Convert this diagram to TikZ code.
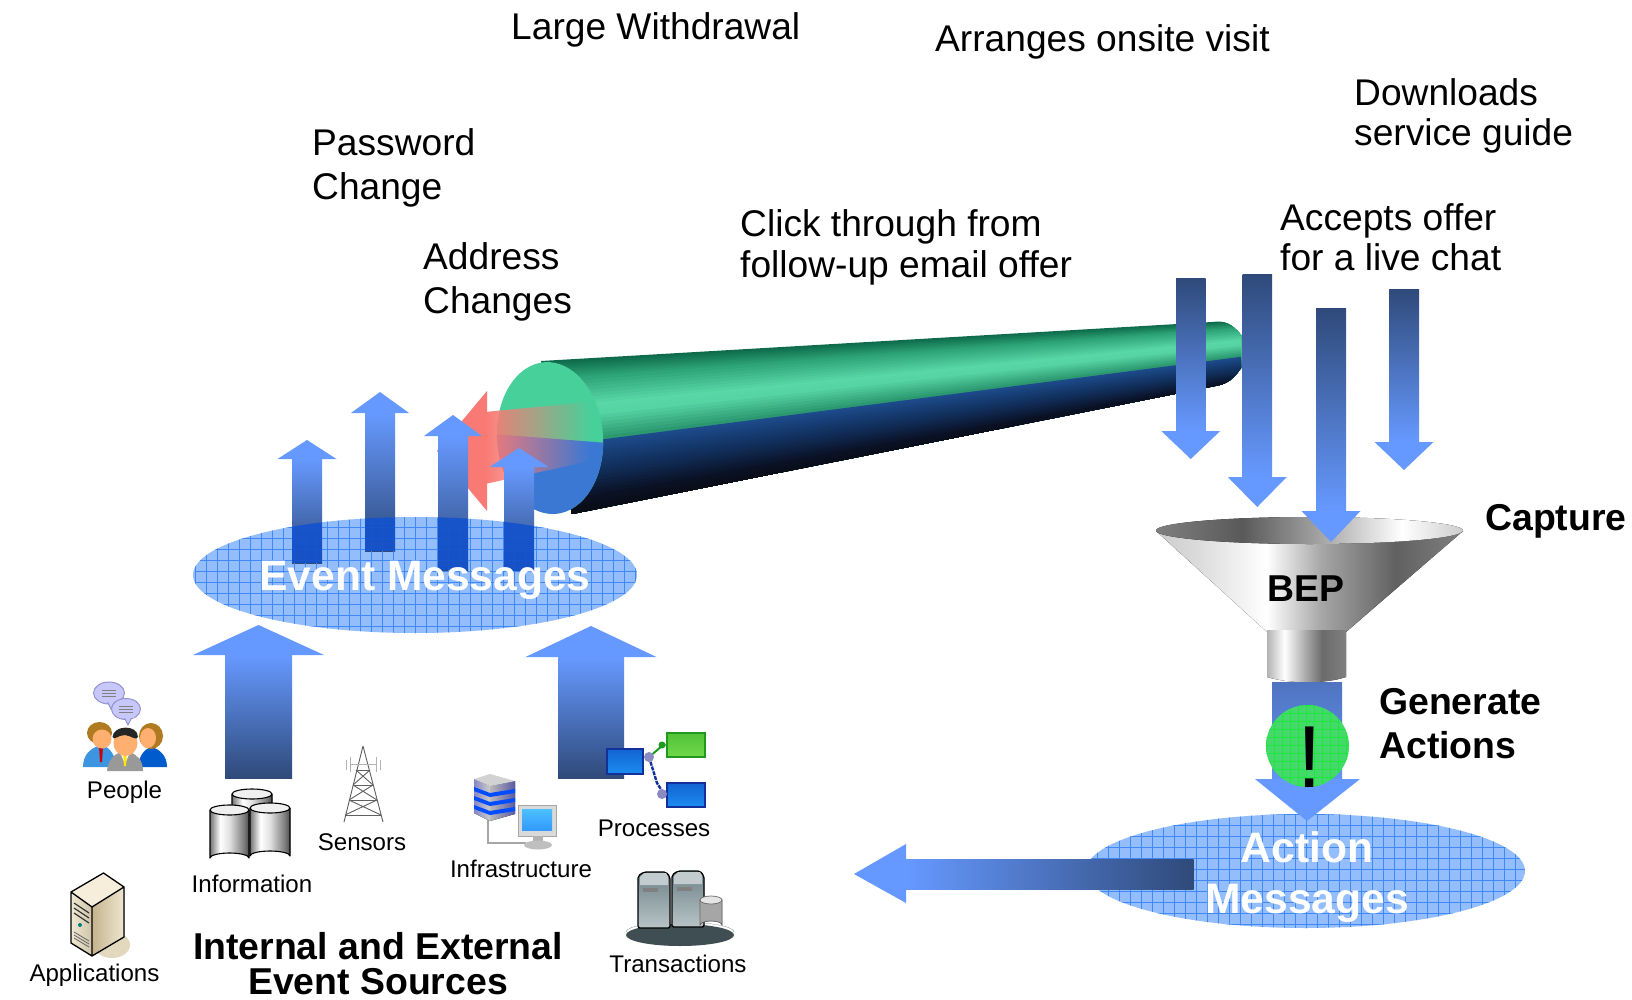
\documentclass[tikz,border=0pt]{standalone}
\usepackage{fontspec}
\setmainfont{Liberation Sans}
\usetikzlibrary{calc,fadings}
\definecolor{headblue}{HTML}{6699FF}
\definecolor{tailblue}{HTML}{2F4A7A}
\definecolor{gridfill}{HTML}{93BDFB}
\definecolor{gridline}{HTML}{3F88F6}
\definecolor{overblue}{HTML}{1452CC}
\definecolor{arrowred}{HTML}{F97A74}
\definecolor{facegreen}{HTML}{48D09A}
\definecolor{faceblue}{HTML}{3A78D4}
\definecolor{personblue}{HTML}{3D94E0}
\definecolor{skin}{HTML}{FFB070}
\definecolor{hairbrown}{HTML}{B07A20}
\definecolor{shaftblue}{HTML}{4F74C0}
\definecolor{markgreen}{HTML}{45D96C}
\definecolor{markgrid}{HTML}{1CE83E}
\definecolor{boxblueA}{HTML}{1262D2}
\definecolor{boxblueB}{HTML}{1C8CF0}
\definecolor{boxblueE}{HTML}{12309A}
\definecolor{boxgreenA}{HTML}{52C238}
\definecolor{boxgreenB}{HTML}{6FD84A}
\definecolor{boxgreenE}{HTML}{1E9A1E}
\tikzfading[name=redfade,left color=transparent!0,right color=transparent!100]
\pgfdeclarehorizontalshading{coneshade}{100bp}{color(0bp)=(gray!40);color(25bp)=(gray!40);
 color(31bp)=(black!15);color(43bp)=(white);color(52bp)=(black!35);color(64bp)=(black!62);color(75bp)=(black!50);color(100bp)=(black!50)}
\pgfdeclarehorizontalshading{rimshade}{100bp}{color(0bp)=(black!50);color(25bp)=(black!50);
 color(39bp)=(black!65);color(52bp)=(black!35);color(65bp)=(white);color(75bp)=(black!20);color(100bp)=(black!20)}
\pgfdeclarehorizontalshading{neckshade}{100bp}{color(0bp)=(black!30);color(25bp)=(black!30);
 color(36bp)=(white);color(50bp)=(black!35);color(60bp)=(black!58);color(75bp)=(black!50);color(100bp)=(black!50)}
\pgfdeclarehorizontalshading{canshade}{100bp}{color(0bp)=(black!55);color(25bp)=(black!55);
 color(38bp)=(white);color(50bp)=(black!12);color(68bp)=(black!50);color(75bp)=(black!70);color(100bp)=(black!70)}
\tikzset{
 plaintext/.style={font=\fontsize{37.15}{42}\selectfont,anchor=base west,inner sep=0pt,align=left},
 boldtext/.style={font=\fontsize{37.4}{37}\selectfont\bfseries,inner sep=0pt},
 smalltext/.style={font=\fontsize{24.1}{24}\selectfont,anchor=base,inner sep=0pt},
 whitetext/.style={font=\fontsize{42.6}{42}\selectfont\bfseries,text=white,anchor=base,inner sep=0pt},
 headfill/.style={fill=headblue},
 iconline/.style={draw=black,line width=1.1pt,line join=round},
 bluebox/.style={top color=boxblueA,bottom color=boxblueB,draw=boxblueE,line width=2pt,inner sep=0pt},
 greenbox/.style={top color=boxgreenA,bottom color=boxgreenB,draw=boxgreenE,line width=2pt,inner sep=0pt},
}
\newcommand\uparrowblock[6]{%
 \fill[headfill] ({(#1+#2)/2-#4},#3) -- ({(#1+#2)/2},#5) -- ({(#1+#2)/2+#4},#3) -- cycle;
 \shade[top color=headblue,bottom color=tailblue] (#1,#3) rectangle (#2,#6);}
\newcommand\downarrowblock[6]{%
 \shade[top color=tailblue,bottom color=headblue] (#1,#3) rectangle (#2,#4);
 \fill[headfill] ({(#1+#2)/2-#5},#4) -- ({(#1+#2)/2},#6) -- ({(#1+#2)/2+#5},#4) -- cycle;}
\newcommand\gridin[5]{%
 \foreach \gx in {#1,\the\numexpr#1+#5\relax,...,#3}{\draw[gridline,line width=0.55pt] (\gx,#2) -- (\gx,#4);}
 \foreach \gy in {#2,\the\numexpr#2+#5\relax,...,#4}{\draw[gridline,line width=0.55pt] (#1,\gy) -- (#3,\gy);}}
\newcommand\can[4]{%
 \fill[black!70,shading=canshade] (#1,#3) -- (#1,#4) arc[start angle=180,end angle=360,x radius={(#2-#1)/2},y radius=5] -- (#2,#3) arc[start angle=0,end angle=-180,x radius={(#2-#1)/2},y radius=5] -- cycle;
 \draw[iconline] (#1,#3) -- (#1,#4) arc[start angle=180,end angle=360,x radius={(#2-#1)/2},y radius=5] -- (#2,#3);
 \draw[iconline,fill=black!6] ({(#1+#2)/2},#3) ellipse[x radius={(#2-#1)/2},y radius=5];}
\begin{document}
\begin{tikzpicture}[x=1pt,y=-1pt]
\useasboundingbox (0,0) rectangle (1632,1000);
\fill[white] (0,0) rectangle (1632,1000);

% ---- tube body ----
\coordinate (LT) at (541,361); \coordinate (LB) at (572,514);
\coordinate (RT) at (1245,320); \coordinate (RB) at (1245,386);
\begin{scope}
 \clip (541,361) -- (1212,322) .. controls (1225,320) and (1232,324) .. (1241,335) -- (1241,368) .. controls (1234,378) and (1228,384) .. (1215,386) -- (572,514) -- cycle;
 \foreach \a/\b/\ca/\cb in {0/0.12/0E6B4B/2FA67A,0.12/0.30/2FA67A/5AD8A8,0.30/0.36/5AD8A8/56D4A4,0.36/0.55/56D4A4/268F69,0.55/0.72/1C4A8A/12305E,0.72/0.90/12305E/0A1226,0.90/1/0A1226/090C14}{
  \definecolor{segA}{HTML}{\ca}\definecolor{segB}{HTML}{\cb}
  \foreach \k in {0,...,7}{
   \pgfmathsetmacro\t{\a+(\b-\a)*\k/8}
   \pgfmathsetmacro\p{100*\k/8}
   \colorlet{slicecol}{segB!\p!segA}
   \fill[slicecol] ($(LT)!\t!(LB)$) -- ($(RT)!\t!(RB)$) -- (RB) -- (LB) -- cycle;
  }
 }
\end{scope}
% tube end face
\fill[facegreen] (550,438) ellipse[x radius=53,y radius=76,rotate=4];
\begin{scope}
 \clip (480,433) -- (620,444) -- (620,530) -- (480,530) -- cycle;
 \fill[faceblue] (550,438) ellipse[x radius=53,y radius=76,rotate=4];
\end{scope}

% ---- red arrow ----
\fill[arrowred] (487,391) -- (437,451) -- (487,511) -- cycle;
\fill[arrowred,path fading=redfade] (485,412) -- (590,402) -- (590,461) -- (485,484) -- cycle;

% ---- event messages ellipse ----
\fill[gridfill] (415,575) ellipse[x radius=222,y radius=58];
\uparrowblock{292}{322}{459}{29.5}{440}{563}
\uparrowblock{365}{395}{413}{29}{392}{551}
\uparrowblock{438}{468}{436}{29}{415}{570}
\uparrowblock{504}{534}{467}{29.5}{448}{571}
\begin{scope}
 \clip (415,575) ellipse[x radius=222,y radius=58];
 \gridin{195}{516}{640}{636}{11}
 \foreach \l/\r/\b in {292/322/563,365/395/551,438/468/570,504/534/571}{\fill[overblue,opacity=0.93] (\l,510) rectangle (\r,\b);}
\end{scope}
\node[whitetext] (eventmsg) at (425,590) {Event Messages};

% ---- big input arrows ----
\uparrowblock{225}{292}{655}{65.5}{625}{778}
\uparrowblock{558}{624}{657}{65.5}{626}{778}

% ---- right-hand arrows ----
\downarrowblock{1176}{1205.5}{278}{431}{29.5}{459}
\downarrowblock{1242.5}{1272}{274}{477}{29.5}{507}

% ---- funnel ----
\fill[shading=coneshade] (1156,531) -- (1267,632) -- (1346,632) -- (1463,531) -- (1309,544) -- cycle;
\fill[shading=rimshade] (1309.5,530.5) ellipse[x radius=153.5,y radius=13.5];
\fill[shading=neckshade] (1267,630) -- (1267,677) .. controls (1290,684) and (1325,684) .. (1346,677) -- (1346,630) -- cycle;

\downarrowblock{1316}{1346}{308}{511}{29.5}{542}
\downarrowblock{1389}{1419}{289}{442}{29.5}{470}
\node[boldtext,anchor=base] (bep) at (1306,601) {BEP};
\node[boldtext,anchor=base west] (capture) at (1485,530) {Capture};

% ---- arrow from funnel to actions ----
\shade[top color=shaftblue,bottom color=headblue!85!shaftblue] (1272,682) rectangle (1342,779);
\fill[gridfill] (1305.5,871) ellipse[x radius=219.5,y radius=57];
\begin{scope}
 \clip (1305.5,871) ellipse[x radius=219.5,y radius=57];
 \gridin{1086}{814}{1526}{929}{11}
\end{scope}
\fill[headfill] (1255,779) -- (1307,821) -- (1360,779) -- cycle;
% generate marker
\fill[markgreen] (1307.5,746) ellipse[x radius=41.5,y radius=41];
\begin{scope}
 \clip (1307.5,746) ellipse[x radius=41.5,y radius=41];
 \foreach \gx in {1266,1274,...,1350}{\draw[markgrid,line width=0.6pt] (\gx,705) -- (\gx,787);}
 \foreach \gy in {705,713,...,787}{\draw[markgrid,line width=0.6pt] (1266,\gy) -- (1350,\gy);}
\end{scope}
\node[font=\fontsize{88}{88}\selectfont,anchor=base,inner sep=0pt] (bang) at (1310,787) {!};
\node[boldtext,anchor=base west] (generate) at (1379,714) {Generate};
\node[boldtext,anchor=base west] (actions) at (1379,758) {Actions};

% left pointing output arrow
\shade[left color=headblue,right color=tailblue] (906,859) rectangle (1193.5,889);
\fill[headfill] (906,844) -- (854,874) -- (906,903) -- cycle;
\node[whitetext] (action) at (1307,862) {Action};
\node[whitetext] (messages) at (1307,913) {Messages};

% ---- plain labels ----
\node[plaintext] (largew) at (511,40) {Large Withdrawal};
\node[plaintext] (onsite) at (935,52) {Arranges onsite visit};
\node[plaintext] (download1) at (1354,106) {Downloads};
\node[plaintext] (download2) at (1354,146) {service guide};
\node[plaintext] (pass1) at (312,156) {Password};
\node[plaintext] (pass2) at (312,200) {Change};
\node[plaintext] (addr1) at (423,269.5) {Address};
\node[plaintext] (addr2) at (423,313) {Changes};
\node[plaintext] (click1) at (740,237) {Click through from};
\node[plaintext] (click2) at (740,277) {follow-up email offer};
\node[plaintext] (accept1) at (1280,231) {Accepts offer};
\node[plaintext] (accept2) at (1280,271) {for a live chat};

% ---- sources title ----
\node[boldtext,anchor=base] (src1) at (378,959) {Internal and External};
\node[boldtext,anchor=base] (src2) at (378,994) {Event Sources};

% ---- People icon ----
\foreach \cx/\cy/\rx/\ry in {109/693/15.5/11,126/709/14.5/10.5}{
 \fill[black!10!blue!22,draw=blue!40!gray!60,line width=1pt] (\cx,\cy) ellipse[x radius=\rx,y radius=\ry];
 \fill[black!10!blue!22,draw=blue!40!gray!60,line width=1pt] (\cx-2,\cy+8) -- (\cx+2,\cy+16) -- (\cx+6,\cy+8) -- cycle;
 \fill[black!10!blue!22] (\cx-4,\cy+5) rectangle (\cx+8,\cy+9);
 \foreach \dl in {-3,0,3}{\draw[gray,line width=0.8pt] (\cx-7,\cy+\dl) -- (\cx+7,\cy+\dl);}
}
% left person
\fill[personblue] (83,767) .. controls (83,755) and (90,749) .. (98,746) -- (104,746) .. controls (110,748) and (116,756) .. (116,767) -- cycle;
\fill[red!80!black] (99,746) -- (103,746) -- (102,762) -- (100,762) -- cycle;
\fill[hairbrown] (99.5,733) ellipse[x radius=12.5,y radius=11];
\fill[skin] (102,739) ellipse[x radius=9.5,y radius=9.5];
% right person
\fill[blue!55!cyan!80!black] (138,767) .. controls (139,755) and (145,749) .. (151,747) .. controls (160,749) and (167,756) .. (167,767) -- cycle;
\fill[hairbrown] (151,736) ellipse[x radius=12,y radius=13];
\fill[skin] (148,738) ellipse[x radius=8,y radius=10];
% centre person
\fill[gray!80] (107,771) .. controls (108,760) and (114,755) .. (120,752) -- (130,752) .. controls (137,755) and (143,760) .. (143,771) -- cycle;
\fill[white] (120,752) -- (125,764) -- (130,752) -- cycle;
\fill[yellow!90!orange] (123,753) -- (127,753) -- (126,766) -- (124,766) -- cycle;
\fill[skin] (125.5,743) ellipse[x radius=12,y radius=13];
\fill[black!85] (112.5,737) .. controls (113,725) and (138,724) .. (138,737) .. controls (136,741) and (132,736) .. (125,735) .. controls (118,735) and (114,741) .. (112.5,737) -- cycle;
\node[smalltext] (people) at (124.5,798) {People};

% ---- Information icon ----
\can{232}{272}{794}{820}
\can{210}{249}{810}{858}
\can{250}{290}{808}{856}
\node[smalltext] (information) at (252,892) {Information};

% ---- Sensors icon ----
\begin{scope}[gray!75!black,line width=0.9pt]
 \draw (363,746) -- (344,822) (363,746) -- (383,822);
 \foreach \yy/\hw in {770/7,785/10,800/14,815/18}{\draw (363-\hw,\yy) -- (363+\hw,\yy);}
 \draw (356,770) -- (373,785) (370,770) -- (353,785) (353,785) -- (377,800) (373,785) -- (349,800) (349,800) -- (381,815) (377,800) -- (345,815);
 \draw[gray!60] (346,760) -- (346,770) (350,757) -- (350,772) (376,757) -- (376,772) (380,760) -- (380,770) (350,764) -- (376,764);
\end{scope}
\node[smalltext] (sensors) at (362,850) {Sensors};

% ---- Infrastructure icon ----
\draw[gray!70,line width=2.4pt] (488,815) -- (488,843) -- (526,843);
\fill[left color=blue!35!gray!70,right color=gray!40] (474,779) -- (490,786) -- (490,821) -- (474,813) -- cycle;
\fill[left color=gray!55,right color=gray!70!blue] (490,786) -- (515,781) -- (515,814) -- (490,821) -- cycle;
\fill[gray!35] (474,779) -- (490,774) -- (515,781) -- (490,786) -- cycle;
\foreach \sy in {0,9,18}{
 \fill[blue!70!cyan] (474,{787+\sy}) -- (490,{793+\sy}) -- (515,{789+\sy}) -- (515,{793+\sy}) -- (490,{797+\sy}) -- (474,{791+\sy}) -- cycle;
}
\fill[black!15,draw=gray!70,line width=1pt] (518,805) rectangle (556,836);
\fill[top color=blue!35!cyan!70,bottom color=blue!50!cyan!80] (522,809) rectangle (552,830);
\fill[gray!60] (533,836) rectangle (543,842);
\fill[gray!50] (538,845) ellipse[x radius=14,y radius=4.5];
\node[smalltext] (infrastructure) at (521,877) {Infrastructure};

% ---- Processes icon ----
\node[bluebox,minimum width=36pt,minimum height=25pt] (procL) at (624.5,761) {};
\node[greenbox,minimum width=38pt,minimum height=24pt] (procG) at (685.5,744.5) {};
\node[bluebox,minimum width=38pt,minimum height=24pt] (procB) at (685.5,794.5) {};
\coordinate (procK) at (649,757);
\draw[boxgreenE,line width=2pt] (procK) -- (662,746) -- (procG.west);
\draw[boxblueE,line width=2.4pt,dash pattern=on 4pt off 1pt] (procK) -- (657,783) -- (664,794) -- (procB.west);
\fill[blue!30!gray!70] (procK) circle (5);
\fill[blue!30!gray!70] (662,794) circle (5);
\fill[boxgreenE] (662,745) circle (3.5);
\node[smalltext] (processes) at (654,836) {Processes};

% ---- Transactions icon ----
\definecolor{discdark}{HTML}{3E4E52}
\definecolor{discmid}{HTML}{7F9EA6}
\definecolor{srvtop}{HTML}{6E8288}
\definecolor{srvbot}{HTML}{B8C4C7}
\definecolor{srvcap}{HTML}{C2CCCF}
\fill[discdark] (680,935) ellipse[x radius=54,y radius=11];
\fill[left color=discmid,right color=discmid,middle color=white!75!discmid] (626,932) arc[start angle=180,end angle=360,x radius=54,y radius=10] arc[start angle=0,end angle=-180,x radius=54,y radius=10];
\foreach \sl/\st in {638/872,672/871}{
 \fill[top color=srvtop,bottom color=srvbot,draw=black,line width=1.3pt,rounded corners=2pt] (\sl,\st+4) -- (\sl+6,\st) -- (\sl+28,\st) -- (\sl+32,\st+5) -- (\sl+32,\st+56) -- (\sl,\st+56) -- cycle;
 \fill[srvcap] (\sl+2,\st+13) -- (\sl+30,\st+13) -- (\sl+30,\st+5) -- (\sl+28,\st+1) -- (\sl+6,\st+1) -- (\sl+2,\st+5) -- cycle;
 \fill[gray] (\sl+5,\st+16) rectangle (\sl+20,\st+20);
}
\fill[left color=gray!70,middle color=white,right color=gray!70,draw=black!60,line width=0.7pt] (700,900) -- (700,925) arc[start angle=180,end angle=360,x radius=11,y radius=4] -- (722,900) -- cycle;
\fill[black!10,draw=black!60,line width=0.7pt] (711,900) ellipse[x radius=11,y radius=4];
\node[smalltext] (transactions) at (678,972) {Transactions};

% ---- Applications icon ----
\definecolor{apptop}{HTML}{F6EEDA}
\definecolor{appA}{HTML}{F0E8D4}
\definecolor{appB}{HTML}{CFC4A8}
\definecolor{appC}{HTML}{C4B48E}
\definecolor{appD}{HTML}{EFE6D0}
\definecolor{appshadow}{HTML}{E2D8BE}
\fill[appshadow] (112,945) ellipse[x radius=18,y radius=13];
\fill[left color=appA,right color=appB] (71,892) -- (92,907) -- (92,956) -- (71,943) -- cycle;
\fill[left color=appC,right color=appD] (92,907) -- (124,887) -- (124,937) -- (92,956) -- cycle;
\fill[apptop] (103.5,873) -- (124,887) -- (92,907) -- (71,892) -- cycle;
\draw[iconline,line width=1.3pt] (103.5,873) -- (124,887) -- (124,937) -- (92,956) -- (71,943) -- (71,892) -- cycle (71,892) -- (92,907) -- (124,887) (92,907) -- (92,956);
\draw[black!80,line width=1.2pt] (74,903) -- (89,913) (74,908) -- (89,918) (74,913) -- (89,923);
\draw[black!60,line width=0.8pt] (74,932) -- (89,941) (74,935) -- (89,944) (74,938) -- (89,947);
\fill[teal] (80,925) circle (2);
\node[smalltext] (applications) at (94.5,981) {Applications};
\end{tikzpicture}
\end{document}
